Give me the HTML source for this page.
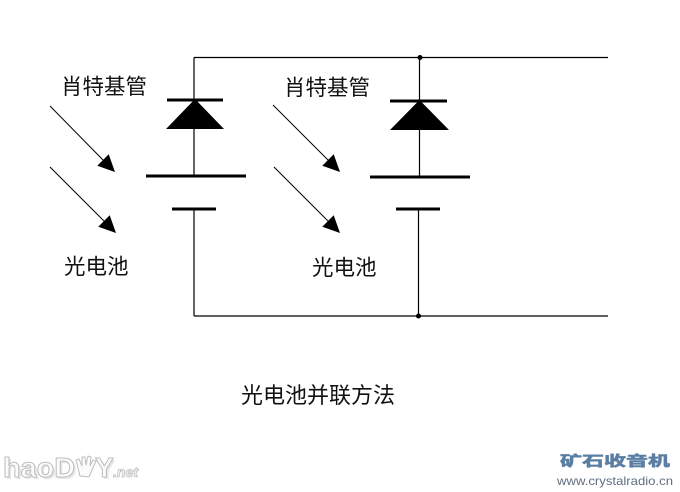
<!DOCTYPE html>
<html><head><meta charset="utf-8"><style>
html,body{margin:0;padding:0;background:#fff;}
svg{display:block;}
text{font-family:"Liberation Sans","Noto Sans CJK SC",sans-serif;}
</style></head><body>
<svg width="680" height="492" viewBox="0 0 680 492" xmlns="http://www.w3.org/2000/svg">
<rect width="680" height="492" fill="#fff"/>
<g stroke="#000" fill="none">
  <line x1="194" y1="57.5" x2="608" y2="57.5" stroke-width="1.2"/>
  <line x1="194" y1="316" x2="608" y2="316" stroke-width="1.2"/>
  <line x1="194" y1="57.5" x2="194" y2="100" stroke-width="1.2"/>
  <line x1="194" y1="128" x2="194" y2="176" stroke-width="1.2"/>
  <line x1="194" y1="209" x2="194" y2="316" stroke-width="1.2"/>
  <line x1="167" y1="100" x2="223" y2="100" stroke-width="3"/>
  <line x1="146" y1="176" x2="246" y2="176" stroke-width="3"/>
  <line x1="172" y1="209" x2="216" y2="209" stroke-width="3"/>
  <line x1="419.5" y1="57.5" x2="419.5" y2="101" stroke-width="1.2"/>
  <line x1="419.5" y1="129" x2="419.5" y2="177" stroke-width="1.2"/>
  <line x1="418.5" y1="209" x2="418.5" y2="316" stroke-width="1.2"/>
  <line x1="390" y1="101" x2="447" y2="101" stroke-width="3"/>
  <line x1="370" y1="177" x2="470" y2="177" stroke-width="3"/>
  <line x1="396" y1="209" x2="440" y2="209" stroke-width="3"/>
  <line x1="50" y1="106" x2="104" y2="161" stroke-width="1"/>
  <line x1="50" y1="167" x2="105" y2="222" stroke-width="1"/>
  <line x1="273" y1="105" x2="329" y2="161" stroke-width="1"/>
  <line x1="274" y1="167" x2="329" y2="222" stroke-width="1"/>
</g>
<g fill="#000">
  <polygon points="195,99 166,129 224,129"/>
  <polygon points="419.5,100 390,130 449,130"/>
  <circle cx="420" cy="57.5" r="2.5"/>
  <circle cx="418.5" cy="316" r="2.5"/>
  <polygon points="115,172 108.7,154.3 97.3,165.7"/>
  <polygon points="116,233 109.7,215.3 98.3,226.7"/>
  <polygon points="340,172 333.7,154.3 322.3,165.7"/>
  <polygon points="340,233 333.7,215.3 322.3,226.7"/>
</g>
<g fill="#111" font-size="21.5">
  <text x="61" y="94">肖特基管</text>
  <text x="284" y="95">肖特基管</text>
  <text x="64" y="274">光电池</text>
  <text x="312" y="275">光电池</text>
  <text x="241" y="403" font-size="22">光电池并联方法</text>
</g>
<text transform="translate(560,466) scale(1,0.72)" x="0" y="0" font-size="20" font-weight="bold" fill="#5a7fa3" stroke="#5a7fa3" stroke-width="0.8" textLength="110" lengthAdjust="spacingAndGlyphs">矿石收音机</text>
<text x="557" y="485" font-size="12" fill="#5f6f80" textLength="116" lengthAdjust="spacingAndGlyphs">www.crystalradio.cn</text>
<g font-weight="bold">
  <text x="5" y="479" font-size="28" fill="#e6e6e6" textLength="72" lengthAdjust="spacingAndGlyphs">haoD</text>
  <text x="3" y="477" font-size="28" fill="#fbfbfb" stroke="#bdbdbd" stroke-width="1" textLength="72" lengthAdjust="spacingAndGlyphs">haoD</text>
  <g fill="#fbfbfb" stroke="#bdbdbd" stroke-width="1">
    <path d="M80,476 L78,468 L76,460 L79,459 L82,466 L82,457 L85,457 L86,465 L88,456 L91,457 L90,466 L93,460 L96,461 L92,470 L89,477 Z"/>
  </g>
  <text x="97" y="479" font-size="28" fill="#e6e6e6">Y</text>
  <text x="95" y="477" font-size="28" fill="#fbfbfb" stroke="#bdbdbd" stroke-width="1">Y</text>
  <text x="113" y="477" font-size="14" fill="#fbfbfb" stroke="#bdbdbd" stroke-width="0.8" font-style="italic">.net</text>
</g>
</svg>
</body></html>
